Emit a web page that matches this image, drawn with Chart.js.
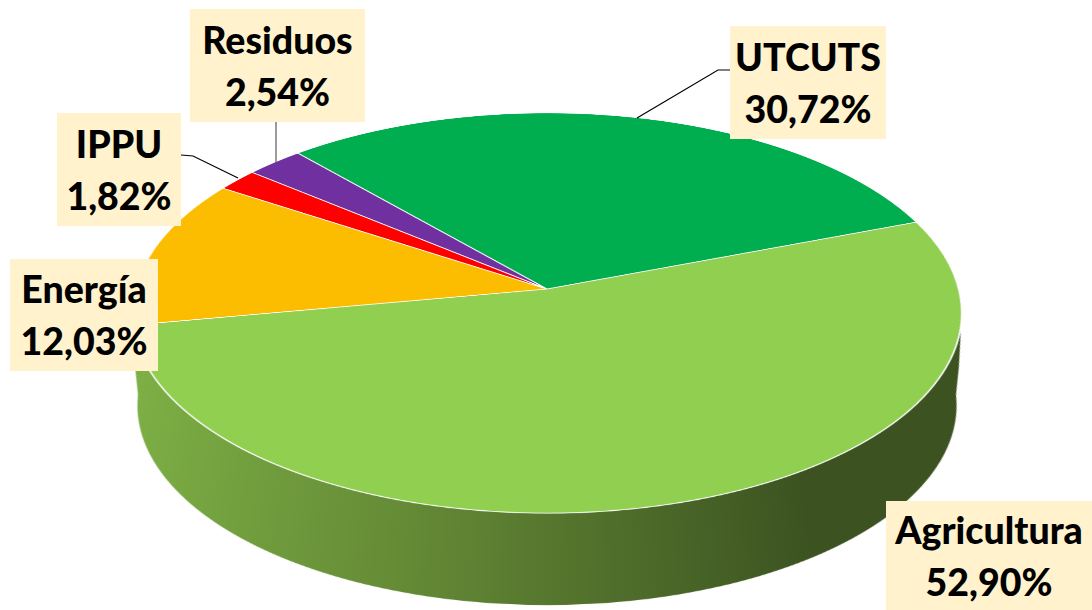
<!DOCTYPE html>
<html lang="es">
<head>
<meta charset="utf-8">
<title>Emisiones por sector</title>
<script src="https://cdn.jsdelivr.net/npm/chart.js@4"></script>
<style>
  html, body { margin: 0; padding: 0; background: #fff; }
  #page { position: relative; width: 1092px; height: 610px; overflow: hidden; }
  /* the canvas is tilted with a perspective matrix, that gives the 3D look */
  #pie { position: absolute; left: 97px; top: -161px; transform-origin: 450px 450px;
         transform: matrix3d(1,0,0,0, 0,0.479,0,-0.00029162, 0,0,1,0, 0,0,0,1); }
  #leaders { position: absolute; left: 0; top: 0; }
  .etiqueta { position: absolute; background: #fff2cc; color: #000; text-align: center;
              font: 900 37.5px/52px Lato, sans-serif; white-space: nowrap;
              display: flex; flex-direction: column; justify-content: center; }
</style>
</head>
<body>
<div id="page">
  <canvas id="pie" width="900" height="1020"></canvas>
  <svg id="leaders" width="1092" height="610"></svg>
</div>
<script>
// Datos
const sectores = ['UTCUTS', 'Agricultura', 'Energía', 'IPPU', 'Residuos'];
const porcentajes = [30.72, 52.90, 12.03, 1.82, 2.54];
const colores = ['#00ae4f', '#90cf50', '#fcbd00', '#ff0000', '#7030a0'];

// Cajas de etiqueta: left, top, width, height
const cajas = [
  [730, 26, 156, 113],
  [886, 501, 206, 109],
  [10, 259, 148, 112],
  [57, 113, 124, 113],
  [190, 9, 175, 113]
];

// Lineas guia de las etiquetas
const guias = [
  ['730,70 718,70 637,118', '#000'],
  ['181,155 193,156 238,178', '#000'],
  ['276,122 276,163', '#595959']
];

// Pared lateral del pastel, dibujada debajo de las porciones
const paredLateral = {
  id: 'paredLateral',
  beforeDatasetsDraw(chart) {
    const arco = chart.getDatasetMeta(0).data[0];
    const { x, y, outerRadius: r } = arco;
    const ctx = chart.ctx;
    const grad = ctx.createLinearGradient(x - r, 0, x + r, 0);
    grad.addColorStop(0, '#80b347');
    grad.addColorStop(0.35, '#658b36');
    grad.addColorStop(0.78, '#3c5321');
    grad.addColorStop(1, '#3c5321');

    ctx.save();
    ctx.fillStyle = grad;
    ctx.beginPath();
    ctx.ellipse(x, y + 0.45 * r, 0.935 * r, 0.894 * r, 0, 0, Math.PI * 2);
    ctx.fill();
    // tramo recto entre la cara de arriba y la elipse de abajo
    ctx.beginPath();
    ctx.moveTo(x - 0.993 * r, y + 0.12 * r);
    ctx.lineTo(x + 0.993 * r, y + 0.12 * r);
    ctx.lineTo(x + 0.955 * r, y + 0.378 * r);
    ctx.lineTo(x + 0.912 * r, y + 0.628 * r);
    ctx.lineTo(x - 0.912 * r, y + 0.628 * r);
    ctx.lineTo(x - 0.955 * r, y + 0.378 * r);
    ctx.closePath();
    ctx.fill();
    ctx.restore();
  }
};

new Chart(document.getElementById('pie'), {
  type: 'pie',
  data: {
    labels: sectores,
    datasets: [{
      data: porcentajes,
      backgroundColor: colores,
      borderColor: '#ffffff',
      borderWidth: 1.6,
      borderAlign: 'center'
    }]
  },
  options: {
    responsive: false,
    animation: false,
    devicePixelRatio: 2,
    rotation: -41.3,
    layout: { padding: { left: 37.5, right: 37.5, top: 37.5, bottom: 157.5 } },
    plugins: {
      legend: { display: false },
      tooltip: { enabled: false }
    }
  },
  plugins: [paredLateral]
});

// Etiquetas como texto normal
const pagina = document.getElementById('page');
sectores.forEach((nombre, i) => {
  const caja = document.createElement('div');
  caja.className = 'etiqueta';
  caja.style.left = cajas[i][0] + 'px';
  caja.style.top = cajas[i][1] + 'px';
  caja.style.width = cajas[i][2] + 'px';
  caja.style.height = cajas[i][3] + 'px';
  const valor = porcentajes[i].toFixed(2).replace('.', ',') + '%';
  caja.innerHTML = '<span>' + nombre + '</span><span>' + valor + '</span>';
  pagina.appendChild(caja);
});

const svg = document.getElementById('leaders');
guias.forEach(([puntos, color]) => {
  const linea = document.createElementNS('http://www.w3.org/2000/svg', 'polyline');
  linea.setAttribute('points', puntos);
  linea.setAttribute('fill', 'none');
  linea.setAttribute('stroke', color);
  linea.setAttribute('stroke-width', '1.2');
  svg.appendChild(linea);
});
</script>
</body>
</html>
